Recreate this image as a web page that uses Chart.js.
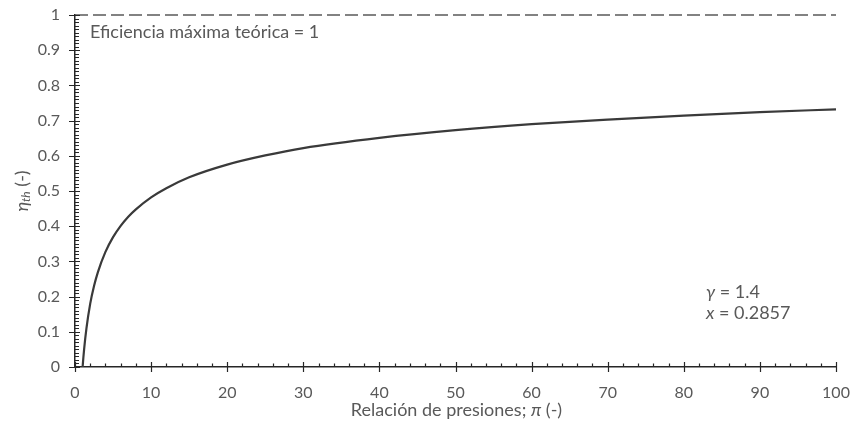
<!DOCTYPE html>
<html>
<head>
<meta charset="utf-8">
<script src="https://cdn.jsdelivr.net/npm/chart.js@4/dist/chart.umd.min.js"></script>
<style>
  html, body { margin: 0; padding: 0; background: #ffffff; }
  canvas { display: block; }
</style>
</head>
<body>
<canvas id="chart" width="854" height="421"></canvas>
<script>
// Pressure ratio π and ideal Brayton-cycle thermal efficiency η_th (γ = 1.4)
const pressureRatio = [1, 1.1, 1.2, 1.5, 2, 2.5, 3, 4, 5, 6, 7, 8, 10, 12, 15, 20, 25, 30, 40, 50, 60, 70, 80, 90, 100];
const thermalEfficiency = [0, 0.027, 0.051, 0.109, 0.180, 0.230, 0.269, 0.327, 0.369, 0.401, 0.427, 0.448, 0.482, 0.508, 0.539, 0.575, 0.601, 0.622, 0.651, 0.673, 0.690, 0.703, 0.714, 0.724, 0.732];

// Theoretical maximum efficiency line
const limitX = [0, 100];
const limitY = [1, 1];

// Axis tick labels
const xTickValues = [0, 10, 20, 30, 40, 50, 60, 70, 80, 90, 100];
const yTickValues = [0, 0.1, 0.2, 0.3, 0.4, 0.5, 0.6, 0.7, 0.8, 0.9, 1];
const yTickLabels = ['0', '0.1', '0.2', '0.3', '0.4', '0.5', '0.6', '0.7', '0.8', '0.9', '1'];

// Text
const limitLabel = 'Eficiencia máxima teórica = 1';
const gammaLabel = ['γ', ' = 1.4'];
const exponentLabel = ['x', ' = 0.2857'];
const xTitle = ['Relación de presiones; ', 'π', ' (-)'];
const yTitle = ['η', 'th', ' (-)'];

const FONT = 'Lato, "Noto Sans", sans-serif';
const TEXT_COLOR = '#595959';
const AXIS_COLOR = '#262626';
const CURVE_COLOR = '#3a3a3a';

const toPoints = (xs, ys) => xs.map((v, i) => ({ x: v, y: ys[i] }));

function drawRuns(ctx, runs, x, y, align) {
  const widths = runs.map(r => {
    ctx.font = (r.italic ? 'italic ' : '') + r.size + 'px ' + FONT;
    return ctx.measureText(r.t).width;
  });
  const total = widths.reduce((a, b) => a + b, 0);
  let cx = align === 'center' ? x - total / 2 : x;
  runs.forEach((r, i) => {
    ctx.font = (r.italic ? 'italic ' : '') + r.size + 'px ' + FONT;
    ctx.fillText(r.t, cx, y + (r.dy || 0));
    cx += widths[i];
  });
}

const decorations = {
  id: 'decorations',
  afterDraw(chart) {
    const { ctx, chartArea: a, scales: { x, y } } = chart;
    ctx.save();

    // major and minor tick marks
    ctx.strokeStyle = AXIS_COLOR;
    ctx.lineWidth = 1.2;
    ctx.beginPath();
    for (let i = 0; i <= 50; i++) {
      const px = Math.round(x.getPixelForValue(i * 2)) + 0.5;
      if (i % 5 === 0) {
        ctx.moveTo(px, a.bottom - 5);
        ctx.lineTo(px, a.bottom + 5);
      } else {
        ctx.moveTo(px, a.bottom - 3.5);
        ctx.lineTo(px, a.bottom);
      }
    }
    for (let i = 0; i <= 100; i++) {
      const py = Math.round(y.getPixelForValue(i / 100)) + 0.5;
      if (i % 10 === 0) {
        ctx.moveTo(a.left - 6, py);
        ctx.lineTo(a.left + 5, py);
      } else {
        ctx.moveTo(a.left, py);
        ctx.lineTo(a.left + 4, py);
      }
    }
    ctx.stroke();

    ctx.fillStyle = TEXT_COLOR;
    ctx.textBaseline = 'middle';
    ctx.textAlign = 'left';

    // annotations
    drawRuns(ctx, [{ t: limitLabel, size: 18 }], a.left + 15, 32, 'left');
    drawRuns(ctx, [{ t: gammaLabel[0], size: 18, italic: true }, { t: gammaLabel[1], size: 18 }], 706, 292, 'left');
    drawRuns(ctx, [{ t: exponentLabel[0], size: 18, italic: true }, { t: exponentLabel[1], size: 18 }], 706, 313, 'left');

    // x axis title
    drawRuns(ctx, [
      { t: xTitle[0], size: 18 },
      { t: xTitle[1], size: 18, italic: true },
      { t: xTitle[2], size: 18 }
    ], (a.left + a.right) / 2 + 1, 410, 'center');

    // y axis title
    ctx.save();
    ctx.translate(22, 191);
    ctx.rotate(-Math.PI / 2);
    drawRuns(ctx, [
      { t: yTitle[0], size: 18, italic: true },
      { t: yTitle[1], size: 12, italic: true, dy: 4 },
      { t: yTitle[2], size: 18 }
    ], 0, 0, 'center');
    ctx.restore();

    ctx.restore();
  }
};

new Chart(document.getElementById('chart'), {
  type: 'scatter',
  data: {
    datasets: [
      {
        data: toPoints(limitX, limitY),
        showLine: true,
        borderColor: '#595959',
        borderWidth: 1.5,
        borderDash: [13, 5],
        pointRadius: 0,
        clip: 4
      },
      {
        data: toPoints(pressureRatio, thermalEfficiency),
        showLine: true,
        borderColor: CURVE_COLOR,
        borderWidth: 2.2,
        cubicInterpolationMode: 'monotone',
        pointRadius: 0,
        clip: 4
      }
    ]
  },
  options: {
    responsive: false,
    devicePixelRatio: 1,
    animation: false,
    events: [],
    layout: { padding: { top: 15, right: 18, left: 0, bottom: 0 } },
    plugins: { legend: { display: false }, tooltip: { enabled: false } },
    scales: {
      x: {
        type: 'linear',
        min: 0, max: 100,
        afterBuildTicks: s => { s.ticks = xTickValues.map(v => ({ value: v })); },
        afterFit: s => { s.height = 54; s.paddingLeft = 0; s.paddingRight = 0; },
        grid: { display: false, drawTicks: false },
        border: { display: true, color: AXIS_COLOR, width: 1.5 },
        ticks: { padding: 16, color: TEXT_COLOR, font: { family: FONT, size: 16 }, maxRotation: 0 }
      },
      y: {
        type: 'linear',
        min: 0, max: 1,
        afterBuildTicks: s => { s.ticks = yTickValues.map(v => ({ value: v })); },
        afterFit: s => { s.width = 75; s.paddingTop = 0; s.paddingBottom = 0; },
        grid: { display: false, drawTicks: false },
        border: { display: true, color: AXIS_COLOR, width: 1.5 },
        ticks: {
          padding: 15, color: TEXT_COLOR, font: { family: FONT, size: 16 },
          callback: (v, i) => yTickLabels[i]
        }
      }
    }
  },
  plugins: [decorations]
});
</script>
</body>
</html>
